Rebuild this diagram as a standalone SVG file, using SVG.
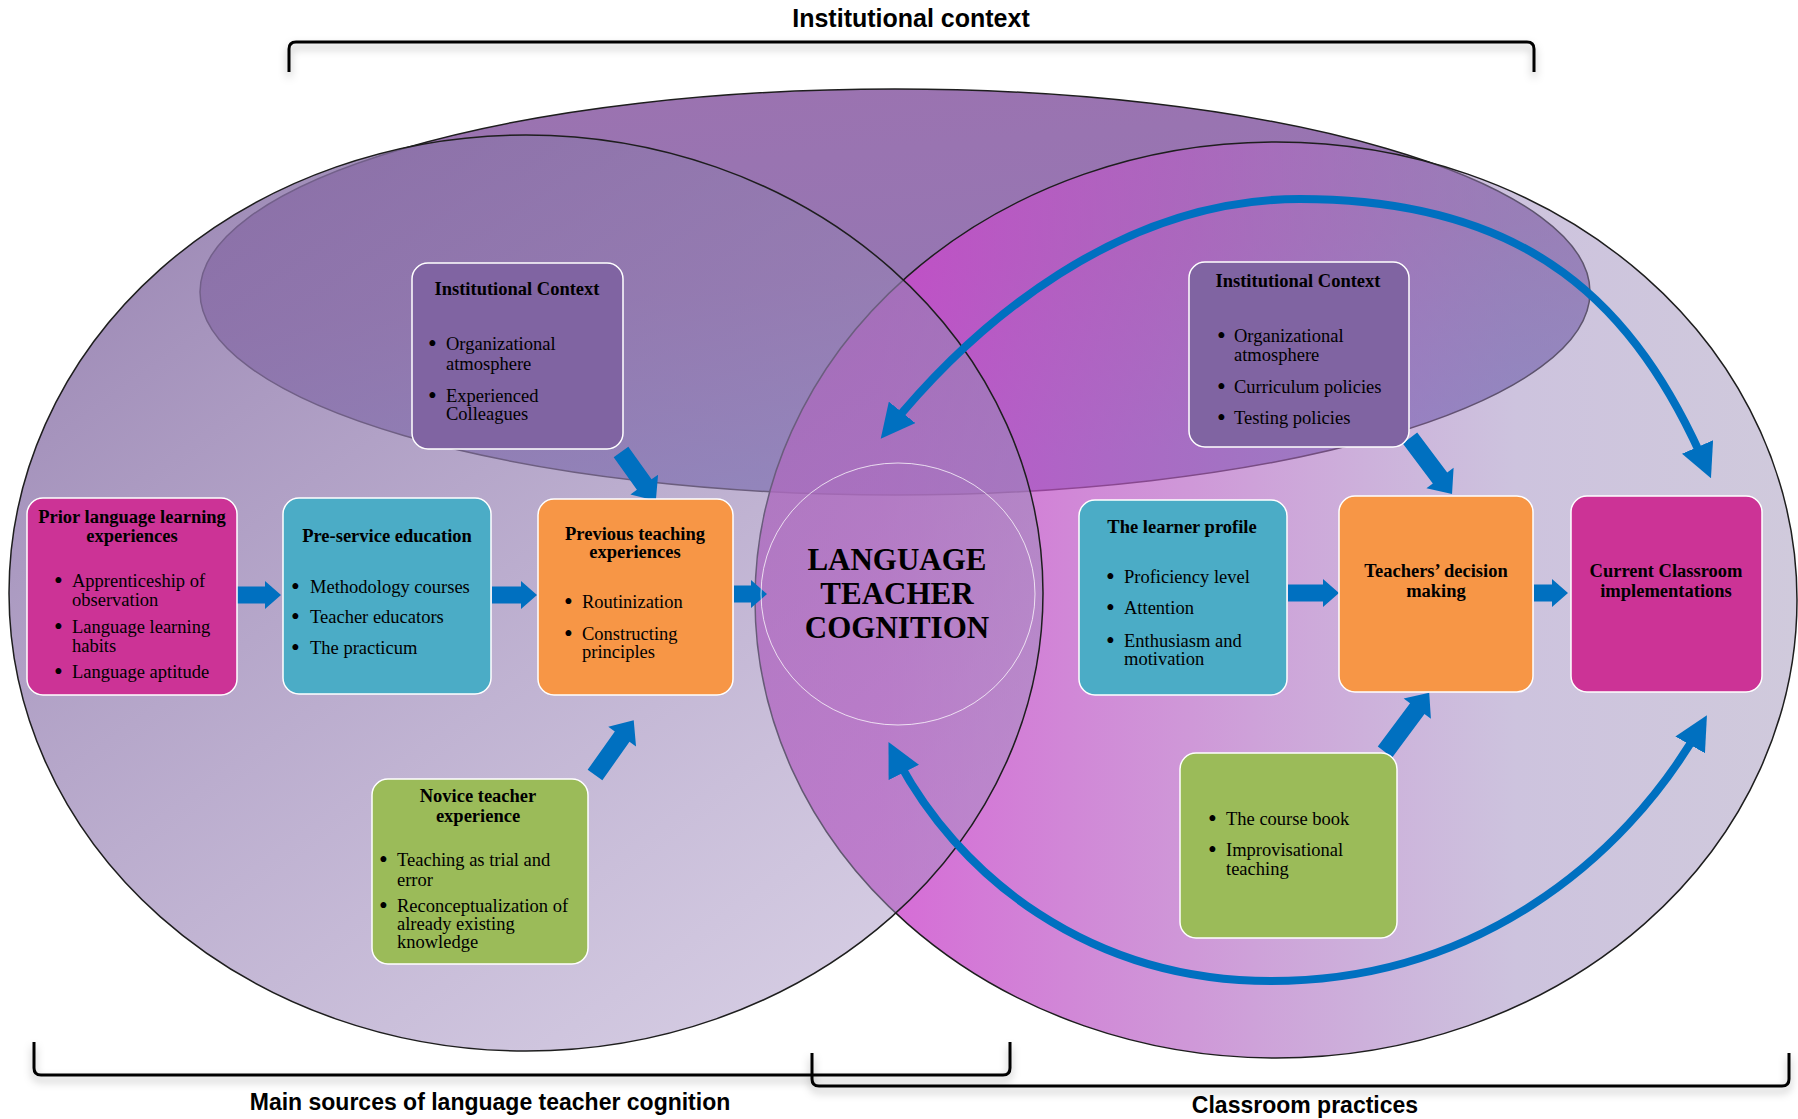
<svg xmlns="http://www.w3.org/2000/svg" width="1798" height="1119" viewBox="0 0 1798 1119">
  <defs>
    <linearGradient id="gTop" x1="0" y1="0" x2="0.3" y2="1">
      <stop offset="0" stop-color="#9c72b0"/>
      <stop offset="0.55" stop-color="#9676b2"/>
      <stop offset="1" stop-color="#8a88c4"/>
    </linearGradient>
    <linearGradient id="gRight" x1="0" y1="0" x2="1" y2="0">
      <stop offset="0" stop-color="#cc45cc" stop-opacity="0.82"/>
      <stop offset="0.12" stop-color="#cc45cc" stop-opacity="0.8"/>
      <stop offset="0.42" stop-color="#b561c3" stop-opacity="0.65"/>
      <stop offset="0.73" stop-color="#9b87bd" stop-opacity="0.5"/>
      <stop offset="1" stop-color="#a195b9" stop-opacity="0.5"/>
    </linearGradient>
    <linearGradient id="gLeft" x1="0.1" y1="0.15" x2="0.75" y2="0.95">
      <stop offset="0" stop-color="#8870a6" stop-opacity="0.8"/>
      <stop offset="1" stop-color="#a592c2" stop-opacity="0.48"/>
    </linearGradient>
    <marker id="head" markerUnits="userSpaceOnUse" markerWidth="34" markerHeight="34" viewBox="0 0 34 34" refX="24" refY="17" orient="auto-start-reverse">
      <path d="M0,0 L34,17 L0,34 Z" fill="#0070c0"/>
    </marker>
    <filter id="shadow" x="-5%" y="-60%" width="110%" height="260%">
      <feDropShadow dx="0" dy="5" stdDeviation="4" flood-color="#000" flood-opacity="0.3"/>
    </filter>
  </defs>
  <style>
    .node rect { stroke: #ffffff; stroke-width: 1.5; }
    .t { font-family: "Liberation Serif", "Times New Roman", serif; font-size: 18.5px; fill: #000; }
    .t .b { font-size: 25px; }
    .tb { font-weight: bold; text-anchor: middle; }
    .ctr { font-family: "Liberation Serif", "Times New Roman", serif; font-size: 31px; font-weight: bold; text-anchor: middle; fill: #000; }
    .blk { fill: #0070c0; }
    .arc { fill: none; stroke: #0070c0; stroke-width: 8; marker-start: url(#head); marker-end: url(#head); }
    .lbl { font-family: "Liberation Sans", Arial, sans-serif; font-weight: bold; font-size: 23px; text-anchor: middle; fill: #000; }
    .brk { fill: none; stroke: #000; stroke-width: 3; filter: url(#shadow); }
    .ring { stroke: #1e1e1e; stroke-width: 1.5; }
  </style>

  <!-- background sets -->
  <g id="sets">
    <ellipse id="set-institution" class="ring" cx="895" cy="292" rx="695" ry="203" fill="url(#gTop)"/>
    <ellipse id="set-classroom" class="ring" cx="1276" cy="600" rx="521" ry="458" fill="url(#gRight)"/>
    <ellipse id="set-sources" class="ring" cx="526" cy="593" rx="517" ry="458" fill="url(#gLeft)"/>
  </g>

  <!-- brackets and their captions -->
  <g id="brackets">
    <path class="brk" d="M289,72 V49 Q289,42 296,42 H1527 Q1534,42 1534,49 V72"/>
    <path class="brk" d="M34,1042 V1068 Q34,1075 41,1075 H1003 Q1010,1075 1010,1068 V1042"/>
    <path class="brk" d="M812,1053 V1079 Q812,1086 819,1086 H1782 Q1789,1086 1789,1079 V1053"/>
    <text class="lbl" x="911" y="27" style="font-size:25px">Institutional context</text>
    <text class="lbl" x="490" y="1110">Main sources of language teacher cognition</text>
    <text class="lbl" x="1305" y="1113">Classroom practices</text>
  </g>

  <!-- connectors -->
  <g id="connectors">
    <path class="arc" d="M887,431 C975,322 1120,199 1300,199 C1530,199 1636,305 1707,469"/>
    <path class="arc" d="M893,751 C957,878 1091,981 1271,981 C1471,981 1622,865 1702,724"/>
    <polygon class="blk" points="235,586.5 265,586.5 265,581 281,595 265,609 265,603.5 235,603.5"/>
    <polygon class="blk" points="492,586.5 521,586.5 521,581 537,595 521,609 521,603.5 492,603.5"/>
    <polygon class="blk" points="734,585.5 751,585.5 751,580 767,594 751,608 751,602.5 734,602.5"/>
    <polygon class="blk" points="1288,584.5 1323,584.5 1323,579 1339,593 1323,607 1323,601.5 1288,601.5"/>
    <polygon class="blk" points="1534,584.5 1552,584.5 1552,579 1568,593 1552,607 1552,601.5 1534,601.5"/>
    <path class="blk" transform="translate(621,452) rotate(54.5)" d="M0,-9 H40 V-17 L60,0 L40,17 V9 H0 Z"/>
    <path class="blk" transform="translate(595,775) rotate(-54.7)" d="M0,-9 H47 V-17 L67,0 L47,17 V9 H0 Z"/>
    <path class="blk" transform="translate(1385,752) rotate(-53.3)" d="M0,-9 H54 V-17 L74,0 L54,17 V9 H0 Z"/>
    <path class="blk" transform="translate(1410,438) rotate(53.1)" d="M0,-9 H50 V-17 L70,0 L50,17 V9 H0 Z"/>
  </g>

  <!-- central concept -->
  <g id="cognition">
    <ellipse cx="898" cy="594" rx="137" ry="131" fill="none" stroke="#ffffff" stroke-opacity="0.75" stroke-width="1"/>
    <text class="ctr" x="897" y="570">LANGUAGE</text>
    <text class="ctr" x="897" y="604">TEACHER</text>
    <text class="ctr" x="897" y="638">COGNITION</text>
  </g>

  <g id="prior" class="node">
    <rect x="27" y="498" width="210" height="197" rx="16" fill="#cc3396"/>
    <text class="t tb" x="132" y="523">Prior language learning</text>
    <text class="t tb" x="132" y="542">experiences</text>
    <text class="t"><tspan class="b" x="54" y="589">•</tspan><tspan x="72" y="587">Apprenticeship of</tspan><tspan x="72" y="606">observation</tspan></text>
    <text class="t"><tspan class="b" x="54" y="635">•</tspan><tspan x="72" y="633">Language learning</tspan><tspan x="72" y="652">habits</tspan></text>
    <text class="t"><tspan class="b" x="54" y="680">•</tspan><tspan x="72" y="678">Language aptitude</tspan></text>
  </g>

  <g id="preservice" class="node">
    <rect x="283" y="498" width="208" height="196" rx="16" fill="#4bacc6"/>
    <text class="t tb" x="387" y="542">Pre-service education</text>
    <text class="t"><tspan class="b" x="291" y="595">•</tspan><tspan x="310" y="593">Methodology courses</tspan></text>
    <text class="t"><tspan class="b" x="291" y="625">•</tspan><tspan x="310" y="623">Teacher educators</tspan></text>
    <text class="t"><tspan class="b" x="291" y="656">•</tspan><tspan x="310" y="654">The practicum</tspan></text>
  </g>

  <g id="previous" class="node">
    <rect x="538" y="499" width="195" height="196" rx="16" fill="#f79646"/>
    <text class="t tb" x="635" y="540">Previous teaching</text>
    <text class="t tb" x="635" y="558">experiences</text>
    <text class="t"><tspan class="b" x="564" y="610">•</tspan><tspan x="582" y="608">Routinization</tspan></text>
    <text class="t"><tspan class="b" x="564" y="642">•</tspan><tspan x="582" y="640">Constructing</tspan><tspan x="582" y="658">principles</tspan></text>
  </g>

  <g id="context-left" class="node">
    <rect x="412" y="263" width="211" height="186" rx="16" fill="#8064a2"/>
    <text class="t tb" x="517" y="295">Institutional Context</text>
    <text class="t"><tspan class="b" x="428" y="352">•</tspan><tspan x="446" y="350">Organizational</tspan><tspan x="446" y="370">atmosphere</tspan></text>
    <text class="t"><tspan class="b" x="428" y="404">•</tspan><tspan x="446" y="402">Experienced</tspan><tspan x="446" y="420">Colleagues</tspan></text>
  </g>

  <g id="novice" class="node">
    <rect x="372" y="779" width="216" height="185" rx="16" fill="#9bbb59"/>
    <text class="t tb" x="478" y="802">Novice teacher</text>
    <text class="t tb" x="478" y="822">experience</text>
    <text class="t"><tspan class="b" x="379" y="868">•</tspan><tspan x="397" y="866">Teaching as trial and</tspan><tspan x="397" y="886">error</tspan></text>
    <text class="t"><tspan class="b" x="379" y="914">•</tspan><tspan x="397" y="912">Reconceptualization of</tspan><tspan x="397" y="930">already existing</tspan><tspan x="397" y="948">knowledge</tspan></text>
  </g>

  <g id="context-right" class="node">
    <rect x="1189" y="262" width="220" height="185" rx="16" fill="#8064a2"/>
    <text class="t tb" x="1298" y="287">Institutional Context</text>
    <text class="t"><tspan class="b" x="1217" y="344">•</tspan><tspan x="1234" y="342">Organizational</tspan><tspan x="1234" y="361">atmosphere</tspan></text>
    <text class="t"><tspan class="b" x="1217" y="395">•</tspan><tspan x="1234" y="393">Curriculum policies</tspan></text>
    <text class="t"><tspan class="b" x="1217" y="426">•</tspan><tspan x="1234" y="424">Testing policies</tspan></text>
  </g>

  <g id="learner" class="node">
    <rect x="1079" y="500" width="208" height="195" rx="16" fill="#4bacc6"/>
    <text class="t tb" x="1182" y="533">The learner profile</text>
    <text class="t"><tspan class="b" x="1106" y="585">•</tspan><tspan x="1124" y="583">Proficiency level</tspan></text>
    <text class="t"><tspan class="b" x="1106" y="616">•</tspan><tspan x="1124" y="614">Attention</tspan></text>
    <text class="t"><tspan class="b" x="1106" y="649">•</tspan><tspan x="1124" y="647">Enthusiasm and</tspan><tspan x="1124" y="665">motivation</tspan></text>
  </g>

  <g id="decision" class="node">
    <rect x="1339" y="496" width="194" height="196" rx="16" fill="#f79646"/>
    <text class="t tb" x="1436" y="577">Teachers’ decision</text>
    <text class="t tb" x="1436" y="597">making</text>
  </g>

  <g id="current" class="node">
    <rect x="1571" y="496" width="191" height="196" rx="16" fill="#cc3396"/>
    <text class="t tb" x="1666" y="577">Current Classroom</text>
    <text class="t tb" x="1666" y="597">implementations</text>
  </g>

  <g id="coursebook" class="node">
    <rect x="1180" y="753" width="217" height="185" rx="16" fill="#9bbb59"/>
    <text class="t"><tspan class="b" x="1208" y="827">•</tspan><tspan x="1226" y="825">The course book</tspan></text>
    <text class="t"><tspan class="b" x="1208" y="858">•</tspan><tspan x="1226" y="856">Improvisational</tspan><tspan x="1226" y="875">teaching</tspan></text>
  </g>
</svg>
